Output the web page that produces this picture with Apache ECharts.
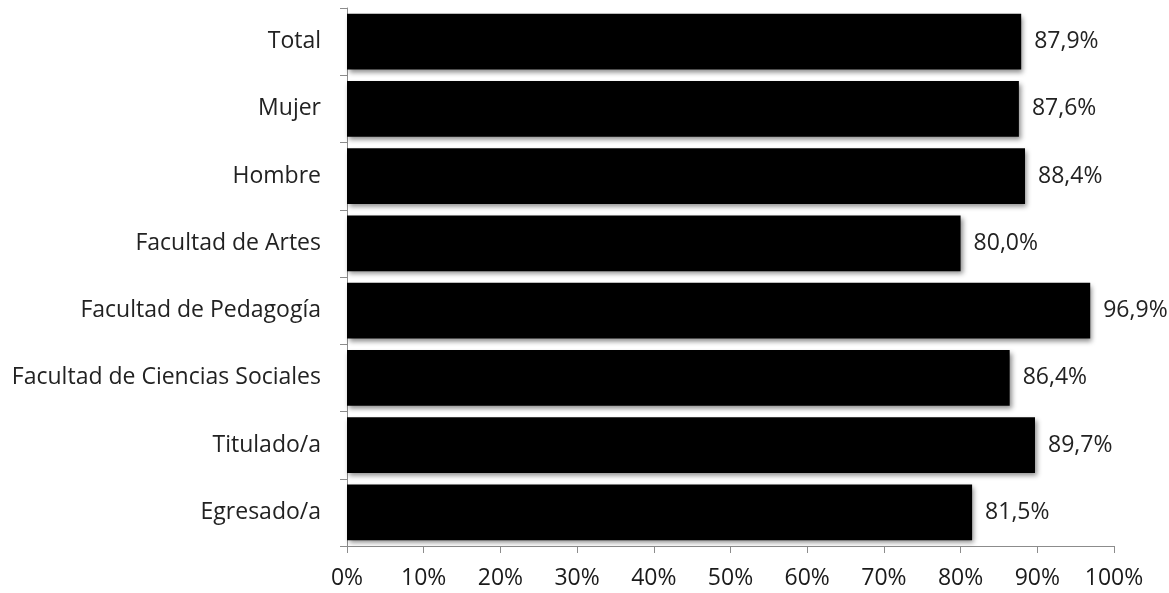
<!DOCTYPE html>
<html>
<head>
<meta charset="utf-8">
<script src="https://cdn.jsdelivr.net/npm/echarts@6/dist/echarts.min.js"></script>
<style>
  html, body { margin: 0; padding: 0; background: #fff; }
  #chart { width: 1169px; height: 593px; }
</style>
</head>
<body>
<div id="chart"></div>
<script>
// categories from top to bottom
var categories = ['Total', 'Mujer', 'Hombre', 'Facultad de Artes', 'Facultad de Pedagogía',
  'Facultad de Ciencias Sociales', 'Titulado/a', 'Egresado/a'];
var values = [87.9, 87.6, 88.4, 80.0, 96.9, 86.4, 89.7, 81.5];
var tickLabels = ['0%', '10%', '20%', '30%', '40%', '50%', '60%', '70%', '80%', '90%', '100%'];

var chart = echarts.init(document.getElementById('chart'));
var fontFam = '"Open Sans", "Noto Sans", sans-serif';

var option = {
  animation: false,
  grid: { left: 347, right: 55, top: 8, bottom: 47 },
  xAxis: {
    type: 'value',
    min: 0, max: 100, interval: 10,
    axisLine: { show: true, lineStyle: { color: '#8c8c8c', width: 1 } },
    axisTick: { show: true, length: 7, lineStyle: { color: '#8c8c8c' } },
    splitLine: { show: false },
    axisLabel: {
      margin: 21,
      color: '#1a1a1a', fontSize: 23, fontFamily: fontFam,
      formatter: function (v) { return tickLabels[Math.round(v / 10)]; }
    }
  },
  yAxis: {
    type: 'category',
    data: categories,
    inverse: true,
    axisLine: { show: true, lineStyle: { color: '#8c8c8c', width: 1 } },
    axisTick: { show: true, length: 7, lineStyle: { color: '#8c8c8c' } },
    axisLabel: { margin: 26, color: '#222', fontSize: 23, fontFamily: fontFam }
  },
  series: [{
    type: 'bar',
    data: values,
    barCategoryGap: '17%',
    itemStyle: {
      color: '#000',
      shadowColor: 'rgba(0,0,0,0.45)',
      shadowBlur: 5,
      shadowOffsetX: 2,
      shadowOffsetY: 3
    },
    label: {
      show: true,
      position: 'right',
      distance: 13,
      color: '#222', fontSize: 23, fontFamily: fontFam,
      formatter: function (p) { return p.value.toFixed(1).replace('.', ',') + '%'; }
    }
  }]
};
chart.setOption(option);
</script>
</body>
</html>
